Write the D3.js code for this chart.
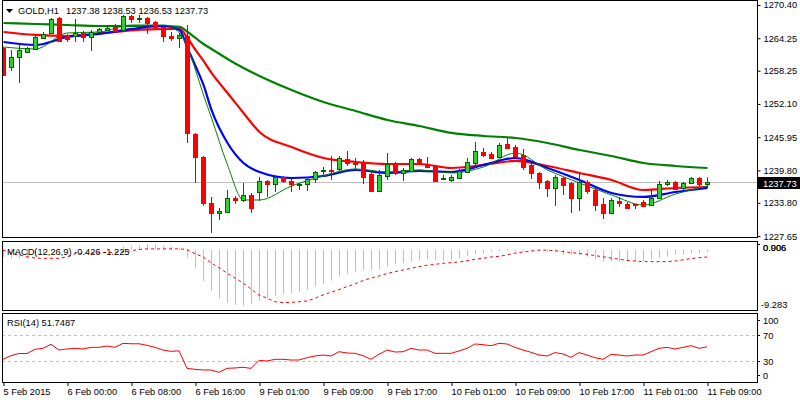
<!DOCTYPE html>
<html>
<head>
<meta charset="utf-8">
<script src="https://cdn.jsdelivr.net/npm/d3@7"></script>
<style>
  body { margin: 0; background: #fff; }
  svg { display: block; font-family: "Liberation Sans", Arial, sans-serif; font-size: 9.3px; }
</style>
</head>
<body>
<div id="chart"></div>
<script>
// ---- data ----
var timeTicks = [0, 8, 16, 24, 32, 40, 48, 56, 64, 72, 80, 88];
var timeLabels = ["5 Feb 2015", "6 Feb 00:00", "6 Feb 08:00", "6 Feb 16:00", "9 Feb 01:00", "9 Feb 09:00",
  "9 Feb 17:00", "10 Feb 01:00", "10 Feb 09:00", "10 Feb 17:00", "11 Feb 01:00", "11 Feb 09:00"];
var priceTicks = [1270.40, 1264.25, 1258.25, 1252.10, 1245.95, 1239.80, 1233.80, 1227.65];

var open = [1262.45,1258.93,1260.78,1261.71,1262.26,1264.30,1265.22,1268.00,1264.85,1264.67,
  1265.22,1264.48,1265.41,1265.78,1266.34,1265.78,1268.37,1267.82,1268.00,1267.26,
  1266.34,1264.67,1264.30,1264.67,1246.54,1242.29,1233.78,1231.93,1232.11,1234.70,
  1234.33,1235.26,1235.81,1237.85,1237.29,1238.58,1237.85,1237.11,1237.29,1238.22,
  1239.60,1239.79,1240.07,1241.92,1241.17,1241.17,1239.14,1236.00,1238.77,1240.99,
  1239.33,1239.70,1241.92,1240.99,1240.62,1238.31,1238.03,1238.40,1239.51,1241.17,
  1243.21,1242.84,1242.29,1244.69,1244.13,1242.66,1240.81,1239.33,1237.85,1236.55,
  1238.40,1237.48,1234.70,1237.66,1236.18,1233.59,1231.93,1234.15,1233.59,1233.50,
  1233.96,1233.41,1234.70,1237.29,1237.66,1236.55,1237.48,1238.40,1237.38];
var high = [1262.63,1262.08,1263.00,1262.63,1264.67,1265.41,1268.00,1268.19,1265.04,1267.82,
  1265.60,1265.78,1266.15,1266.52,1266.89,1268.55,1268.55,1268.55,1268.19,1267.45,
  1266.52,1265.41,1265.22,1266.70,1246.73,1242.47,1234.89,1232.85,1236.18,1235.07,
  1237.48,1235.63,1238.58,1238.03,1238.95,1238.77,1238.22,1237.48,1238.58,1239.70,
  1240.44,1242.47,1242.47,1243.40,1242.10,1241.73,1239.88,1239.88,1243.02,1241.36,
  1240.25,1242.10,1242.10,1242.29,1240.81,1238.95,1238.95,1240.07,1242.10,1245.06,
  1243.95,1243.21,1244.88,1245.80,1244.51,1243.77,1241.17,1239.51,1238.03,1238.95,
  1238.58,1237.66,1239.51,1238.03,1236.55,1234.70,1234.70,1234.89,1233.96,1233.59,
  1234.33,1236.18,1237.85,1238.03,1237.85,1237.66,1238.58,1238.58,1238.53];
var low = [1257.27,1258.20,1255.97,1261.52,1262.08,1264.11,1265.04,1263.74,1263.56,1263.56,
  1263.56,1261.90,1265.22,1265.60,1265.41,1265.60,1267.07,1267.07,1265.04,1266.15,
  1263.56,1263.75,1262.45,1244.87,1237.48,1233.22,1228.23,1230.63,1231.93,1233.59,
  1233.96,1231.93,1234.15,1234.89,1235.81,1237.48,1235.81,1236.18,1236.00,1237.48,
  1238.58,1238.03,1239.70,1240.62,1240.07,1237.29,1235.81,1235.81,1238.03,1238.95,
  1237.85,1239.51,1240.81,1240.25,1237.66,1238.03,1237.66,1238.40,1239.33,1240.44,
  1242.29,1241.92,1242.10,1243.95,1242.29,1239.88,1238.22,1236.37,1234.89,1233.22,
  1235.26,1231.93,1232.30,1235.44,1232.30,1230.81,1231.74,1233.04,1232.67,1232.67,
  1233.04,1233.22,1234.52,1236.92,1236.18,1236.18,1237.29,1236.92,1236.53];
var close = [1257.45,1260.78,1262.08,1262.45,1264.48,1265.04,1267.82,1263.74,1264.11,1265.22,
  1264.48,1265.41,1265.96,1266.15,1265.60,1268.37,1267.82,1268.00,1267.07,1266.34,
  1264.67,1264.30,1264.85,1246.73,1242.29,1233.78,1231.93,1232.30,1234.70,1234.33,
  1235.26,1232.85,1237.85,1237.29,1238.58,1237.85,1237.29,1237.29,1238.22,1239.51,
  1239.79,1239.60,1242.10,1241.17,1240.99,1238.58,1236.00,1238.95,1240.99,1239.33,
  1239.88,1241.92,1240.99,1240.44,1237.85,1238.49,1238.58,1239.70,1241.36,1243.40,
  1242.66,1242.10,1244.51,1243.95,1242.47,1240.44,1239.33,1237.66,1236.55,1238.58,
  1237.11,1234.70,1237.66,1236.00,1233.41,1231.93,1234.33,1233.78,1232.85,1233.31,
  1233.22,1234.70,1237.29,1237.66,1236.37,1237.48,1238.40,1237.29,1237.73];

// moving averages, read at these bars
var maIdx = [0,4,8,12,16,20,22,23,24,25,26,28,30,32,36,40,44,48,52,56,60,64,68,72,76,80,84,88];
var maSlow = [1267.07,1266.89,1266.70,1266.52,1266.52,1266.52,1266.34,1265.41,1264.30,1263.19,1262.27,1260.42,1258.75,1257.27,
  1254.68,1252.46,1250.80,1249.13,1248.02,1246.73,1246.17,1245.80,1244.88,1243.58,1242.47,1241.17,1240.62,1240.25];
var maRed = [1265.41,1264.86,1264.67,1265.13,1265.69,1265.97,1265.97,1264.30,1262.08,1260.05,1257.83,1254.13,1250.43,1246.91,
  1244.13,1242.10,1241.36,1240.99,1240.99,1240.25,1240.81,1241.55,1240.62,1239.33,1238.03,1236.18,1236.55,1236.73];
var maBlue = [1263.56,1263.00,1264.49,1265.04,1265.97,1266.52,1265.78,1262.45,1259.12,1255.61,1250.98,1244.87,1241.17,1239.51,
  1238.40,1238.77,1239.88,1239.33,1239.70,1239.51,1240.81,1242.10,1240.25,1238.03,1235.63,1234.89,1235.81,1236.55];
var maFast = [1262.63,1262.27,1265.23,1265.41,1266.70,1266.70,1265.23,1262.63,1258.38,1253.75,1249.50,1240.81,1234.33,1234.33,
  1236.92,1238.77,1240.07,1239.51,1239.88,1239.33,1240.44,1243.02,1239.88,1237.48,1235.26,1233.41,1235.44,1236.92];

var macdMain = [-1.2,-1.5,-1.5,-1.4,-1.1,-0.8,-0.3,-0.3,-0.3,-0.2,
  -0.1,0.0,0.1,0.2,0.2,0.5,0.6,0.7,0.906,0.8,
  0.6,0.4,0.3,-1.4,-3.1,-5.2,-6.8,-8.1,-8.8,-9.1,
  -9.283,-8.9,-8.4,-8.0,-7.7,-7.4,-7.2,-7.0,-6.6,-6.1,
  -5.67,-5.13,-4.47,-4.03,-3.65,-3.49,-3.49,-3.26,-2.83,-2.38,
  -2.27,-2.0,-1.84,-1.61,-1.73,-1.84,-1.73,-1.45,-1.07,-0.74,
  -0.63,-0.36,-0.3,-0.3,-0.3,-0.3,-0.3,-0.3,-0.4,-0.5,
  -0.9,-0.9,-0.9,-1.18,-1.6,-2.0,-1.9,-2.0,-2.0,-2.0,
  -1.9,-1.6,-1.45,-1.18,-0.9,-0.9,-0.6,-0.6,-0.426];
var macdSignal = [-0.1,-0.6,-0.9,-1.2,-1.4,-1.45,-1.45,-1.45,-1.2,-0.7,
  -0.6,-0.6,-0.55,-0.5,-0.45,-0.4,-0.2,0.0,0.1,0.1,
  0.1,0.1,0.1,0.0,-0.7,-1.2,-2.2,-3.0,-3.9,-4.7,
  -5.5,-6.5,-7.5,-8.0,-8.6,-8.75,-8.7,-8.6,-8.47,-8.03,
  -7.48,-7.05,-6.6,-6.1,-5.67,-5.1,-4.7,-4.36,-3.97,-3.65,
  -3.37,-3.1,-2.82,-2.6,-2.44,-2.27,-2.17,-2.06,-1.84,-1.61,
  -1.45,-1.23,-1.12,-0.9,-0.6,-0.4,-0.25,-0.1,-0.1,-0.2,
  -0.35,-0.5,-0.65,-0.8,-1.0,-1.2,-1.4,-1.6,-1.8,-1.9,
  -2.0,-2.0,-2.0,-2.0,-1.9,-1.7,-1.5,-1.35,-1.225];
var macdLabels = ["0.906", "0.006", "-9.283"];

var rsi = [32.6,38.2,41.5,41.5,48.0,49.5,55.7,46.9,48.5,49.5,
  48.5,51.0,51.0,53.0,51.0,57.2,56.5,56.5,54.1,51.0,
  46.9,44.9,45.6,18.7,17.2,16.2,16.2,12.6,18.7,19.3,
  20.3,18.7,31.0,30.0,32.6,32.6,31.5,31.5,35.1,37.7,
  39.2,37.7,44.3,42.3,41.8,38.2,32.6,40.3,46.9,43.8,
  44.3,49.5,46.9,46.9,41.8,41.8,41.8,45.4,49.5,56.2,
  55.1,53.5,57.2,56.2,51.0,46.9,43.4,39.2,37.7,42.9,
  40.8,35.6,42.9,39.2,35.1,32.6,40.3,39.2,37.7,39.2,
  39.2,44.3,49.5,51.0,48.5,51.0,53.6,49.5,51.7487];
var rsiLevels = [70, 30];
var rsiTicks = [100, 70, 30, 0];

var W = 800, H = 400, right = 757, left = 2;
var FS = "9.3px";
var svg = d3.select("#chart").append("svg").attr("width", W).attr("height", H);

var x = d3.scaleLinear().domain([0, 88]).range([3, 707]);
var y = d3.scaleLinear().domain([1227.65, 1270.40]).range([236.1, 5.0]);
var yM = d3.scaleLinear().domain([-9.283, 0.906]).range([305.9, 244.0]);
var yR = d3.scaleLinear().domain([0, 100]).range([380.5, 315.5]);

svg.append("defs").append("clipPath").attr("id", "mainClip")
  .append("rect").attr("x", left).attr("y", 0).attr("width", right - left).attr("height", 238);

// ---- main panel ----
var main = svg.append("g").attr("clip-path", "url(#mainClip)");
var last = close[close.length - 1];
main.append("line").attr("x1", left).attr("x2", right)
  .attr("y1", Math.round(y(last)) + 0.5).attr("y2", Math.round(y(last)) + 0.5)
  .attr("stroke", "#c0c0c0");

var maLine = d3.line().x(function(d, k) { return x(maIdx[k]) + 0.5; }).y(function(d) { return y(d); })
  .curve(d3.curveMonotoneX);
[[maSlow, "#008000", 2.2], [maRed, "#ff0000", 2.2], [maBlue, "#0000ff", 2.2], [maFast, "#008000", 1]]
  .forEach(function(m) {
    main.append("path").attr("d", maLine(m[0])).attr("fill", "none")
      .attr("stroke", m[1]).attr("stroke-width", m[2]);
  });

var candles = main.selectAll("g.candle").data(d3.range(open.length)).enter().append("g").attr("class", "candle");
candles.append("line")
  .attr("x1", function(i) { return x(i) + 0.5; }).attr("x2", function(i) { return x(i) + 0.5; })
  .attr("y1", function(i) { return y(high[i]); }).attr("y2", function(i) { return y(low[i]); })
  .attr("stroke", function(i) { return close[i] >= open[i] ? "#006400" : "#d00000"; });
candles.append("rect")
  .attr("x", function(i) { return x(i) - 1.5; }).attr("width", 4)
  .attr("y", function(i) { return Math.round(y(Math.max(open[i], close[i]))) + 0.5; })
  .attr("height", function(i) { return Math.max(1, Math.round(Math.abs(y(open[i]) - y(close[i])))); })
  .attr("fill", function(i) { return close[i] >= open[i] ? "#32cd32" : "#ff0000"; })
  .attr("stroke", function(i) { return close[i] >= open[i] ? "#006400" : "#ff0000"; })
  .attr("shape-rendering", "crispEdges");

svg.append("rect").attr("x", left + 0.5).attr("y", 0.5).attr("width", right - left).attr("height", 237)
  .attr("fill", "none").attr("stroke", "#000");

// header
svg.append("path").attr("d", "M6,9 L13,9 L9.5,13 Z").attr("fill", "#000");
svg.append("text").attr("x", 18).attr("y", 14).attr("fill", "#000").text("GOLD,H1");
svg.append("text").attr("x", 66).attr("y", 14).attr("fill", "#000")
  .text([open[88], high[88], low[88], close[88]].map(function(v) { return v.toFixed(2); }).join(" "));

// price axis
var pAxis = svg.append("g").attr("transform", "translate(" + (right + 0.5) + ",0)")
  .call(d3.axisRight(y).tickValues(priceTicks).tickFormat(function(d) { return d.toFixed(2); }).tickSize(3).tickPadding(3));
pAxis.select(".domain").remove();
pAxis.selectAll("text").attr("font-size", FS).attr("font-family", "Liberation Sans, Arial, sans-serif").attr("fill", "#000");
pAxis.selectAll("line").attr("stroke", "#000");

svg.append("rect").attr("x", right + 1).attr("y", Math.round(y(last)) - 5).attr("width", 43).attr("height", 12).attr("fill", "#000");
svg.append("text").attr("x", right + 6).attr("y", Math.round(y(last)) + 4.5)
  .attr("fill", "#fff").text(last.toFixed(2));

// ---- MACD panel ----
var mp = svg.append("g");
mp.selectAll("line.hist").data(macdMain).enter().append("line").attr("class", "hist")
  .attr("x1", function(d, i) { return x(i) + 0.5; }).attr("x2", function(d, i) { return x(i) + 0.5; })
  .attr("y1", yM(0)).attr("y2", function(d) { return yM(d); })
  .attr("stroke", "#c0c0c0");
mp.append("path").attr("d", d3.line().x(function(d, i) { return x(i); }).y(function(d) { return yM(d); })(macdSignal))
  .attr("fill", "none").attr("stroke", "#ff0000").attr("stroke-dasharray", "3,3");
svg.append("rect").attr("x", left + 0.5).attr("y", 241.5).attr("width", right - left).attr("height", 69)
  .attr("fill", "none").attr("stroke", "#000");
svg.append("text").attr("x", 7).attr("y", 255).attr("fill", "#000")
  .text("MACD(12,26,9) " + macdMain[88].toFixed(3) + " " + macdSignal[88].toFixed(3));
macdLabels.forEach(function(t) {
  var v = +t, top = v >= 0;
  var ty = top ? yM(0.906) : yM(-9.283);
  if (top) {
    svg.append("line").attr("x1", right).attr("x2", right + 3).attr("y1", Math.round(ty) + 0.5)
      .attr("y2", Math.round(ty) + 0.5).attr("stroke", "#000");
  }
  svg.append("text").attr("x", top ? right + 6 : right + 4).attr("y", top ? ty + 7 : ty + 2).attr("fill", "#000").text(t);
});

// ---- RSI panel ----
var rp = svg.append("g");
rp.selectAll("line.lvl").data(rsiLevels).enter().append("line").attr("class", "lvl")
  .attr("x1", left).attr("x2", right)
  .attr("y1", function(d) { return Math.round(yR(d)) + 0.5; }).attr("y2", function(d) { return Math.round(yR(d)) + 0.5; })
  .attr("stroke", "#c0c0c0").attr("stroke-dasharray", "3,3");
rp.append("path").attr("d", d3.line().x(function(d, i) { return x(i); }).y(function(d) { return yR(d); })(rsi))
  .attr("fill", "none").attr("stroke", "#ff0000");
svg.append("rect").attr("x", left + 0.5).attr("y", 313.5).attr("width", right - left).attr("height", 69)
  .attr("fill", "none").attr("stroke", "#000");
svg.append("text").attr("x", 7).attr("y", 326).attr("fill", "#000")
  .text("RSI(14) " + rsi[88]);
rsiTicks.forEach(function(v) {
  var ty = Math.min(Math.max(yR(v), 320), 375);
  svg.append("line").attr("x1", right).attr("x2", right + 3).attr("y1", Math.round(ty) + 0.5)
    .attr("y2", Math.round(ty) + 0.5).attr("stroke", "#000");
  svg.append("text").attr("x", right + 6).attr("y", ty + 3.5).attr("fill", "#000").text(v);
});

// ---- time axis ----
var tAxis = svg.append("g").attr("transform", "translate(0,383)")
  .call(d3.axisBottom(x).tickValues(timeTicks).tickFormat(function(d, i) { return timeLabels[i]; }).tickSize(3).tickPadding(2));
tAxis.select(".domain").remove();
tAxis.selectAll("line").attr("stroke", "#000").attr("transform", "translate(0.5,0)");
tAxis.selectAll("text").attr("text-anchor", "start").attr("font-size", FS)
  .attr("font-family", "Liberation Sans, Arial, sans-serif").attr("fill", "#000");
</script>
</body>
</html>
